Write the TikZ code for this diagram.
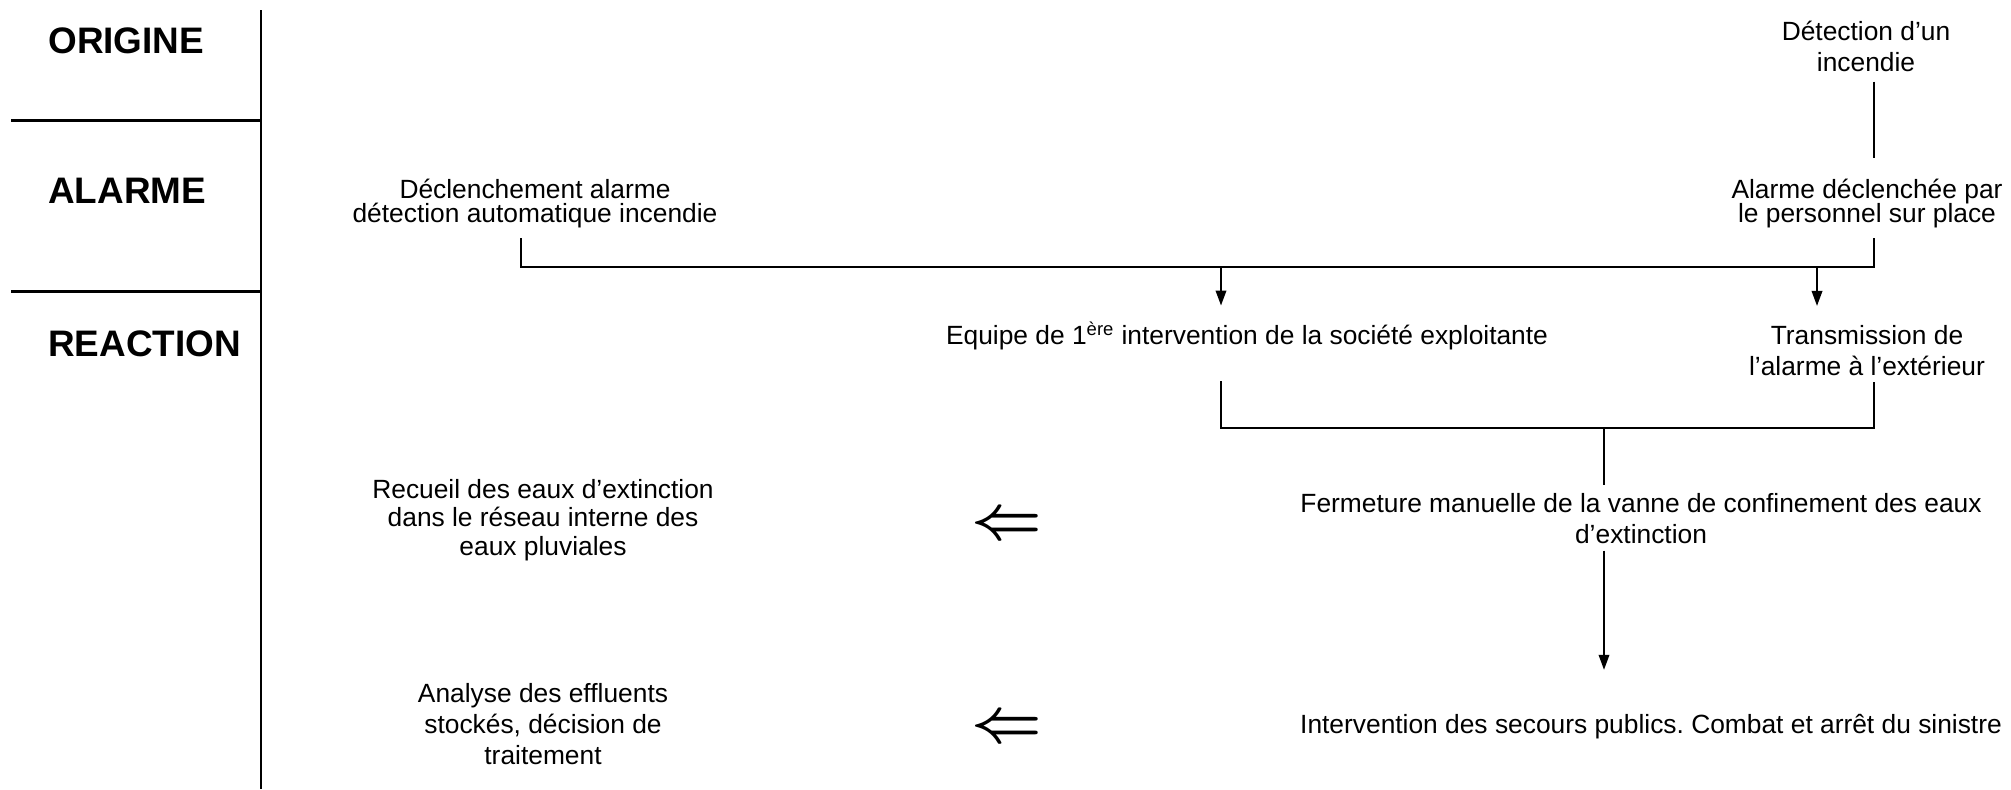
\documentclass[tikz,border=0pt]{standalone}
\usepackage{fontspec}
\setmainfont{Liberation Sans}
\usepackage{graphicx}
\usetikzlibrary{arrows.meta}
\frenchspacing

\newcommand\freelines{\lineskiplimit-20pt\relax}

\tikzset{
  lane/.style={font=\fontsize{21}{25}\selectfont\bfseries, inner sep=0pt, anchor=base west},
  txt/.style={font={\fontsize{15}{17.7}\selectfont\freelines}, align=center, inner sep=0pt},
  tight/.style={txt, font={\fontsize{15}{14.2}\selectfont\freelines}},
  mid/.style={txt, font={\fontsize{15}{16.2}\selectfont\freelines}},
  link/.style={line width=1.1pt},
  arr/.style={link, -{Triangle[length=0.3cm, width=0.21cm]}},
  divider/.style={line width=1.7pt},
}

\begin{document}
\begin{tikzpicture}[x=0.02cm, y=-0.02cm]
    \useasboundingbox (0,0) rectangle (2011,789);

    \draw[divider] (261,10) -- (261,789);
    \draw[divider] (11,120) -- (261,120);
    \draw[divider] (11,291) -- (261,291);

    \node[lane] (origine) at (48,53) {ORIGINE};
    \node[lane] (alarme) at (48,203) {ALARME};
    \node[lane] (reaction) at (48,356) {REACTION};

    \node[txt] (detection) at (1866,46) {Détection d’un\\incendie};
    \node[tight] (alarmePerso) at (1867,203.5) {Alarme déclenchée par\\le personnel sur place};
    \node[tight] (alarmeAuto) at (535,203.5) {Déclenchement alarme\\détection automatique incendie};
    \node[txt] (equipe) at (1247,336) {Equipe de 1\textsuperscript{ère} intervention de la société exploitante};
    \node[txt] (transmission) at (1867,351) {Transmission de\\l’alarme à l’extérieur};
    \node[txt] (fermeture) at (1641,519) {Fermeture manuelle de la vanne de confinement des eaux\\d’extinction};
    \node[txt] (secours) at (1651,727) {Intervention des secours publics. Combat et arrêt du sinistre};
    \node[mid] (recueil) at (543,520) {Recueil des eaux d’extinction\\dans le réseau interne des\\eaux pluviales};
    \node[txt] (analyse) at (543,724) {Analyse des effluents\\stockés, décision de\\traitement};
    \node[inner sep=0pt] (flecheA) at (1007,526) {\scalebox{3.5}{\boldmath$\Leftarrow$}};
    \node[inner sep=0pt] (flecheB) at (1007,729) {\scalebox{3.5}{\boldmath$\Leftarrow$}};

    \coordinate (busL) at (521,267);
    \coordinate (busR) at (1874,267);
    \coordinate (busE) at (1221,267);
    \coordinate (busT) at (1817,267);
    \coordinate (brL) at (1221,428);
    \coordinate (brR) at (1874,428);
    \coordinate (brM) at (1604,428);

    \draw[link, shorten <=0.2cm, shorten >=0.4cm] (detection.south -| busR) -- (alarmePerso.north -| busR);
    \draw[link, shorten <=0.19cm, shorten >=0.19cm] (alarmeAuto.south -| busL) -- (busL) -- (busR) -- (alarmePerso.south -| busR);
    \draw[arr, shorten >=0.32cm] (busE) -- (busE |- equipe.north);
    \draw[arr, shorten >=0.39cm] (busT) -- (busT |- transmission.north);
    \draw[link, shorten <=0.62cm, shorten >=0.1cm] (brL |- equipe.south) -- (brL) -- (brR) -- (brR |- transmission.south);
    \draw[link, shorten >=0.17cm] (brM) -- (brM |- fermeture.north);
    \draw[arr, shorten <=0.12cm, shorten >=0.89cm] (brM |- fermeture.south) -- (brM |- secours.north);
\end{tikzpicture}
\end{document}
